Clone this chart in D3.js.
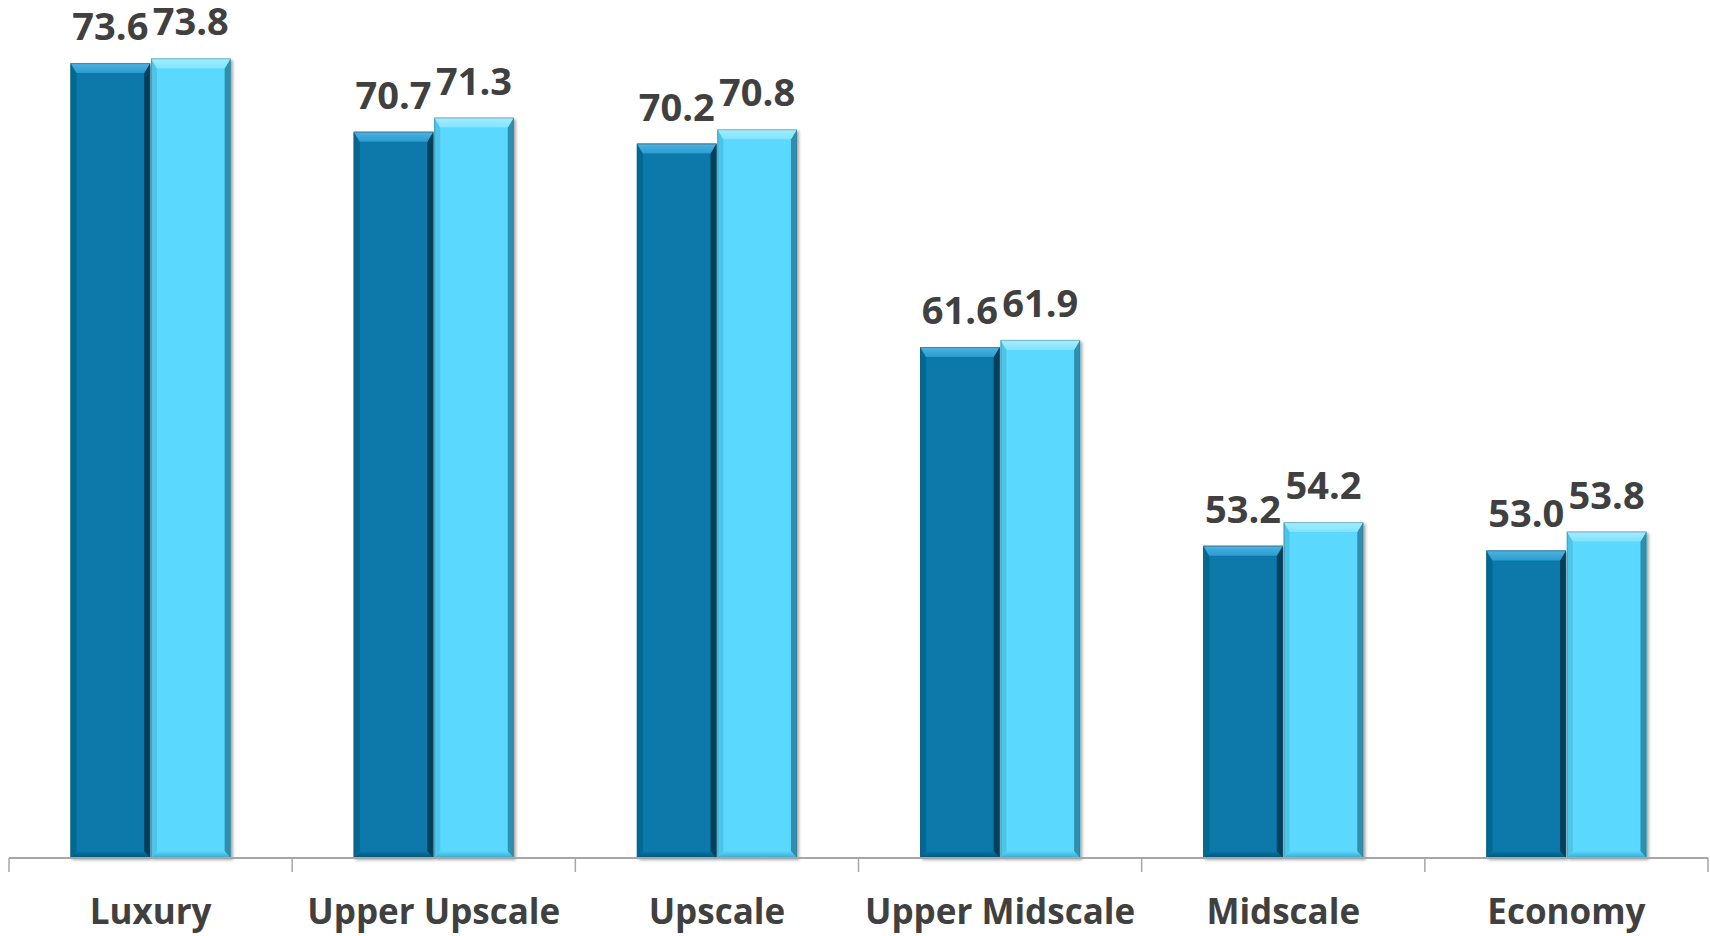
<!DOCTYPE html>
<html>
<head>
<meta charset="utf-8">
<script src="https://cdn.jsdelivr.net/npm/d3@7"></script>
<style>
  html, body { margin: 0; padding: 0; background: #ffffff; }
  svg { display: block; }
  text { font-family: "Open Sans", "Liberation Sans", sans-serif; font-weight: 700; fill: #404040; }
</style>
</head>
<body>
<svg id="chart" width="1710" height="936"></svg>
<script>
// Hotel segments and the two series of values shown for each
const categories = ["Luxury", "Upper Upscale", "Upscale", "Upper Midscale", "Midscale", "Economy"];
const seriesNames = ["A", "B"];
const seriesA = [73.6, 70.7, 70.2, 61.6, 53.2, 53.0];
const seriesB = [73.8, 71.3, 70.8, 61.9, 54.2, 53.8];
const yDomain = [40, 75];

const svg = d3.select("#chart");
const left = 9, right = 1708, baseY = 858, topY = 30;

const x0 = d3.scaleBand().domain(categories).range([left, right]).paddingInner(0).paddingOuter(0);
const x1 = d3.scaleBand().domain(seriesNames).range([0, x0.bandwidth()]).paddingInner(0.01).paddingOuter(0.765);
const y = d3.scaleLinear().domain(yDomain).range([baseY, topY]);

// Bevelled bar styling per series
const styles = {
  A: { main: "#0778aa", top: "#2a9dd0", topEdge: "#4fb3df", left: "#066892", right: "#033f5c", bottom: "#045375", outline: "#2c4f5f" },
  B: { main: "#5ad8fd", top: "#80e3ff", topEdge: "#a5eeff", left: "#4cc6ea", right: "#2e8fae", bottom: "#3ba8cb", outline: "#4a6f7c" }
};

const data = [];
categories.forEach((c, i) => {
  data.push({ cat: c, s: "A", v: seriesA[i] });
  data.push({ cat: c, s: "B", v: seriesB[i] });
});

// Soft shadow underneath bars
const defs = svg.append("defs");
const f = defs.append("filter").attr("id", "shadow").attr("x", "-10%").attr("y", "-10%").attr("width", "130%").attr("height", "130%");
f.append("feGaussianBlur").attr("in", "SourceAlpha").attr("stdDeviation", 1.5).attr("result", "b");
f.append("feOffset").attr("in", "b").attr("dx", 1.5).attr("dy", 2).attr("result", "o");
f.append("feComponentTransfer").attr("in", "o").attr("result", "oa")
  .append("feFuncA").attr("type", "linear").attr("slope", 0.35);
const fm = f.append("feMerge");
fm.append("feMergeNode").attr("in", "oa");
fm.append("feMergeNode").attr("in", "SourceGraphic");

// Gradients for top and bottom bevel faces
["A", "B"].forEach(k => {
  const g = defs.append("linearGradient").attr("id", "topgrad" + k).attr("x1", 0).attr("y1", 0).attr("x2", 0).attr("y2", 1);
  g.append("stop").attr("offset", "0%").attr("stop-color", styles[k].topEdge);
  g.append("stop").attr("offset", "100%").attr("stop-color", styles[k].top);
  const b = defs.append("linearGradient").attr("id", "botgrad" + k).attr("x1", 0).attr("y1", 0).attr("x2", 0).attr("y2", 1);
  b.append("stop").attr("offset", "0%").attr("stop-color", styles[k].main);
  b.append("stop").attr("offset", "100%").attr("stop-color", styles[k].bottom);
});

const bars = svg.append("g").selectAll("g.bar").data(data).join("g")
  .attr("class", "bar")
  .attr("filter", "url(#shadow)");

const bev = 10, side = 6, bot = 7;
bars.each(function(d) {
  const g = d3.select(this);
  const st = styles[d.s];
  const xL = x0(d.cat) + x1(d.s);
  const w = x1.bandwidth();
  const yT = y(d.v);
  const yB = baseY;
  const xR = xL + w;
  g.append("rect").attr("x", xL).attr("y", yT).attr("width", w).attr("height", yB - yT).attr("fill", st.main);
  // bottom face
  g.append("polygon").attr("points", [[xL, yB], [xR, yB], [xR - side, yB - bot], [xL + side, yB - bot]].join(" "))
    .attr("fill", "url(#botgrad" + d.s + ")");
  // left face
  g.append("polygon").attr("points", [[xL, yT], [xL + side, yT + bev], [xL + side, yB - bot], [xL, yB]].join(" "))
    .attr("fill", st.left);
  // right face
  g.append("polygon").attr("points", [[xR, yT], [xR - side, yT + bev], [xR - side, yB - bot], [xR, yB]].join(" "))
    .attr("fill", st.right);
  // top face
  g.append("polygon").attr("points", [[xL, yT], [xR, yT], [xR - side, yT + bev], [xL + side, yT + bev]].join(" "))
    .attr("fill", "url(#topgrad" + d.s + ")");
  g.append("rect").attr("x", xL + 0.5).attr("y", yT + 0.5).attr("width", w - 1).attr("height", yB - yT - 1)
    .attr("fill", "none").attr("stroke", st.outline).attr("stroke-opacity", 0.45).attr("stroke-width", 1);
});

// Value labels above each bar
svg.append("g").selectAll("text.val").data(data).join("text")
  .attr("class", "val")
  .attr("x", d => x0(d.cat) + x1(d.s) + x1.bandwidth() / 2)
  .attr("y", d => y(d.v) - 23)
  .attr("text-anchor", "middle")
  .attr("font-size", 38)
  .text(d => d.v.toFixed(1));

// Category axis
const axis = d3.axisBottom(x0).tickSize(0).tickPadding(41);
const ax = svg.append("g").attr("transform", `translate(0,${baseY})`).call(axis);
ax.select(".domain").attr("stroke", "#a6a6a6").attr("stroke-width", 2).attr("d", `M${left},0H${right}`);
ax.selectAll(".tick text").attr("font-size", 35).attr("fill", "#404040")
  .style("font-family", "'Open Sans', sans-serif").style("font-weight", 700);

// Boundary ticks between categories
const bounds = categories.map(c => x0(c)).concat([right]);
ax.append("g").selectAll("line").data(bounds).join("line")
  .attr("x1", d => d).attr("x2", d => d).attr("y1", 0).attr("y2", 14)
  .attr("stroke", "#a6a6a6").attr("stroke-width", 1.5);
</script>
</body>
</html>
